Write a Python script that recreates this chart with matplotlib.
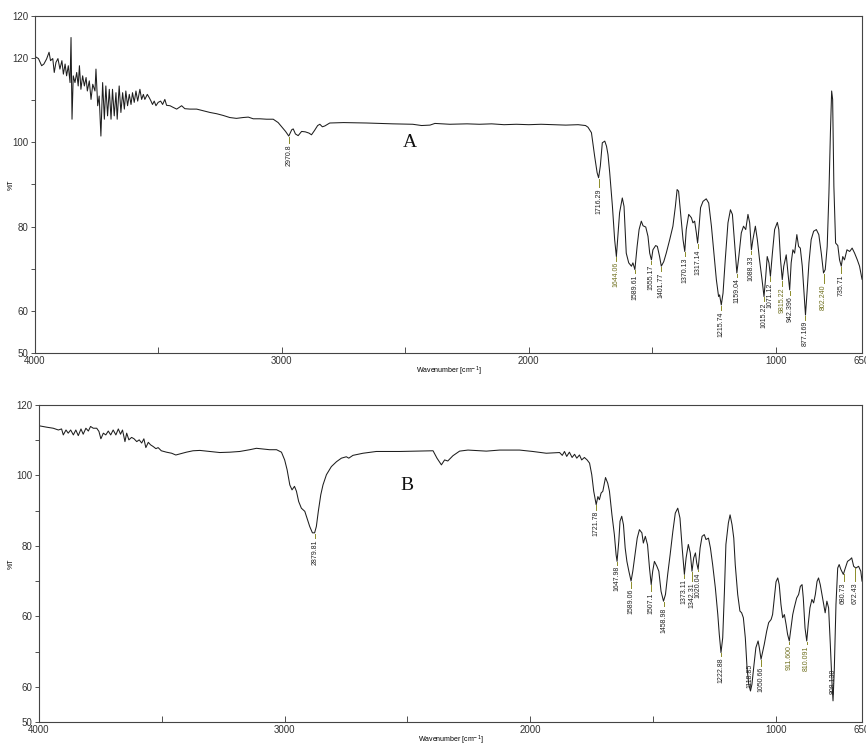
import matplotlib
matplotlib.use("Agg")
import matplotlib.pyplot as plt
import numpy as np

plt.rcParams["font.family"] = ["Liberation Sans", "DejaVu Sans"]

# ---- spectrum A (wavenumber cm-1, %T) ----
wn_a = [4000, 3986, 3973, 3964, 3953, 3943, 3937, 3928, 3922, 3915, 3907, 3899, 3891, 3885,
        3878, 3872, 3865, 3858, 3854, 3850, 3845, 3838, 3831, 3825, 3820, 3814, 3807, 3800,
        3793, 3788, 3780, 3773, 3766, 3757, 3753, 3746, 3740, 3733, 3726, 3719, 3713, 3706,
        3699, 3692, 3686, 3679, 3672, 3667, 3659, 3652, 3645, 3638, 3632, 3625, 3618, 3611,
        3605, 3598, 3591, 3584, 3575, 3568, 3561, 3555, 3545, 3537, 3530, 3524, 3517, 3510,
        3501, 3491, 3483, 3474, 3467, 3453, 3440, 3426, 3406, 3393, 3372, 3345, 3318, 3291,
        3264, 3238, 3211, 3184, 3157, 3136, 3116, 3089, 3062, 3035, 3015, 2995, 2985, 2972,
        2960, 2954, 2945, 2934, 2920, 2905, 2890, 2880, 2868, 2855, 2846, 2836, 2826, 2806,
        2750, 2657, 2550, 2470, 2434, 2400, 2380, 2320, 2250, 2200, 2150, 2100, 2050, 2000,
        1950, 1900, 1850, 1800, 1770, 1760, 1746, 1733, 1723, 1717, 1710, 1702, 1692, 1685,
        1679, 1672, 1661, 1652, 1645, 1638, 1632, 1621, 1614, 1605, 1595, 1584, 1578, 1570,
        1561, 1553, 1544, 1537, 1526, 1517, 1510, 1503, 1497, 1486, 1479, 1470, 1463, 1453,
        1443, 1429, 1416, 1406, 1399, 1393, 1385, 1375, 1368, 1362, 1352, 1341, 1335, 1328,
        1321, 1316, 1311, 1304, 1294, 1281, 1271, 1260, 1250, 1240, 1231, 1227, 1220, 1213,
        1204, 1193, 1183, 1175, 1166, 1157, 1149, 1139, 1130, 1121, 1112, 1105, 1098, 1092,
        1082, 1074, 1065, 1055, 1047, 1040, 1034, 1027, 1021, 1013, 1004, 993, 987, 980,
        973, 967, 957, 950, 943, 937, 930, 923, 914, 907, 900, 892, 885, 879,
        872, 865, 856, 846, 835, 825, 815, 806, 799, 791, 784, 778, 773, 769,
        764, 757, 748, 741, 734, 728, 721, 711, 700, 690, 680, 669, 660, 650]
t_a = [120.4, 119.9, 118.2, 118.6, 119.8, 121.4, 119.4, 119.9, 116.6, 119.0, 119.9, 117.4, 119.4, 116.2,
       118.6, 115.8, 118.2, 114.2, 124.9, 105.5, 115.8, 114.2, 116.6, 113.4, 118.2, 112.6, 115.8, 113.4,
       115.4, 112.2, 114.6, 110.2, 113.8, 112.2, 117.4, 108.7, 111.0, 101.5, 114.2, 105.5, 113.4, 106.3,
       112.6, 105.5, 112.6, 106.3, 111.8, 105.5, 113.4, 107.1, 111.8, 107.9, 112.2, 108.7, 111.4, 109.0,
       111.8, 109.5, 112.2, 109.8, 112.6, 110.2, 111.4, 110.2, 111.4, 110.6, 109.8, 109.0, 109.8, 108.7,
       109.5, 109.8, 109.0, 110.2, 108.8, 108.7, 108.3, 107.9, 108.7, 108.0, 107.9, 107.9, 107.5, 107.1,
       106.8, 106.4, 105.9, 105.7, 105.9, 106.0, 105.6, 105.6, 105.5, 105.5, 104.7, 103.3, 102.6, 101.5,
       103.0, 103.2, 102.0, 101.6, 102.6, 102.5, 102.2, 101.8, 102.8, 104.0, 104.3, 103.7, 103.9, 104.6,
       104.7, 104.6, 104.4, 104.3, 104.0, 104.1, 104.5, 104.3, 104.4, 104.3, 104.4, 104.2, 104.3, 104.2,
       104.3, 104.2, 104.1, 104.2, 104.0, 103.6, 102.3, 96.7, 92.8, 91.6, 94.4, 99.9, 100.3, 99.1,
       97.1, 92.8, 84.8, 76.9, 72.9, 78.5, 83.3, 86.8, 84.8, 73.7, 71.4, 70.6, 71.4, 69.8,
       75.3, 79.3, 81.3, 80.2, 79.9, 77.7, 73.7, 72.1, 74.5, 75.5, 75.3, 72.9, 70.6, 71.7,
       73.7, 76.9, 80.1, 84.8, 88.8, 88.4, 83.3, 76.9, 74.1, 79.3, 82.9, 82.1, 80.9, 81.3,
       78.5, 76.1, 79.3, 84.5, 86.0, 86.6, 85.6, 80.1, 73.7, 67.4, 63.4, 63.8, 61.4, 64.2,
       72.1, 80.9, 84.0, 82.9, 76.1, 69.0, 72.9, 78.5, 80.1, 79.3, 82.9, 80.9, 74.5, 76.9,
       80.1, 76.9, 72.1, 67.4, 63.4, 68.2, 72.9, 71.4, 68.2, 73.7, 79.3, 81.0, 79.3, 72.1,
       67.4, 70.6, 73.3, 69.0, 65.0, 71.4, 74.5, 73.7, 78.1, 75.3, 74.9, 70.6, 64.2, 59.0,
       65.0, 71.4, 76.9, 78.9, 79.3, 78.1, 73.7, 69.0, 69.8, 75.3, 88.0, 102.3, 112.2, 110.2,
       89.6, 76.1, 75.5, 72.1, 70.6, 72.9, 72.1, 74.5, 74.1, 74.9, 73.7, 72.1, 70.6, 67.5]

# ---- spectrum B ----
wn_b = [4000, 3969, 3942, 3921, 3908, 3901, 3890, 3881, 3871, 3860, 3850, 3840, 3829, 3820,
        3809, 3799, 3790, 3779, 3765, 3756, 3748, 3738, 3728, 3718, 3708, 3698, 3687, 3677,
        3668, 3660, 3650, 3643, 3634, 3623, 3613, 3602, 3592, 3582, 3573, 3565, 3555, 3546,
        3535, 3524, 3515, 3502, 3481, 3460, 3443, 3427, 3400, 3373, 3345, 3305, 3264, 3223,
        3183, 3142, 3115, 3088, 3061, 3033, 3013, 3000, 2990, 2979, 2970, 2960, 2952, 2943,
        2932, 2918, 2909, 2898, 2887, 2878, 2871, 2863, 2853, 2844, 2830, 2810, 2789, 2769,
        2749, 2739, 2722, 2681, 2627, 2532, 2396, 2380, 2362, 2349, 2336, 2315, 2288, 2254,
        2179, 2125, 2044, 1990, 1935, 1881, 1870, 1861, 1852, 1841, 1830, 1820, 1811, 1800,
        1791, 1780, 1769, 1759, 1750, 1742, 1732, 1725, 1719, 1712, 1705, 1694, 1685, 1678,
        1668, 1658, 1651, 1647, 1640, 1635, 1628, 1621, 1614, 1607, 1599, 1590, 1583, 1574,
        1565, 1556, 1546, 1540, 1532, 1523, 1515, 1508, 1502, 1495, 1485, 1477, 1468, 1458,
        1450, 1441, 1431, 1420, 1410, 1400, 1391, 1382, 1373, 1366, 1357, 1349, 1342, 1335,
        1328, 1323, 1317, 1309, 1301, 1292, 1285, 1275, 1267, 1258, 1247, 1237, 1231, 1224,
        1217, 1210, 1204, 1194, 1187, 1179, 1172, 1166, 1156, 1147, 1140, 1133, 1125, 1118,
        1111, 1104, 1098, 1091, 1082, 1073, 1068, 1061, 1054, 1048, 1038, 1030, 1020, 1014,
        1007, 1000, 993, 987, 980, 973, 966, 959, 953, 946, 939, 932, 926, 916,
        908, 901, 894, 889, 882, 875, 869, 862, 854, 847, 840, 833, 827, 820,
        813, 806, 800, 793, 786, 779, 772, 768, 763, 756, 749, 743, 736, 726,
        718, 709, 699, 692, 684, 675, 664, 655, 650]
t_b = [114.1, 113.7, 113.4, 112.9, 113.2, 111.5, 112.9, 112.0, 112.9, 111.5, 112.9, 111.3, 113.2, 111.7,
       113.4, 112.6, 113.9, 113.4, 113.4, 112.5, 110.4, 112.0, 111.5, 112.6, 111.5, 112.9, 111.5, 113.2,
       111.7, 112.9, 109.6, 112.0, 110.1, 110.8, 110.4, 109.6, 110.1, 109.2, 110.4, 107.9, 109.4, 108.7,
       108.2, 107.6, 107.9, 107.0, 106.6, 106.3, 105.8, 106.1, 106.6, 107.0, 107.1, 106.8, 106.5, 106.6,
       106.8, 107.3, 107.7, 107.5, 107.3, 107.3, 106.6, 104.4, 101.6, 97.3, 95.9, 96.9, 95.5, 92.6,
       90.7, 89.8, 87.9, 85.5, 83.7, 83.7, 85.5, 89.8, 94.5, 97.3, 100.2, 102.5, 103.9, 104.9,
       105.3, 104.9, 105.7, 106.3, 106.8, 106.8, 107.0, 104.9, 103.0, 104.4, 104.1, 105.6, 106.9, 107.2,
       106.9, 107.2, 107.2, 106.8, 106.3, 106.5, 105.7, 106.8, 105.4, 106.6, 105.1, 106.0, 104.9, 105.8,
       104.4, 105.1, 104.4, 103.5, 100.2, 95.5, 91.7, 94.0, 93.1, 95.0, 95.5, 99.4, 97.8, 95.5,
       88.9, 83.2, 77.5, 75.6, 81.3, 87.0, 88.4, 86.0, 79.4, 75.6, 72.8, 70.0, 72.8, 77.5,
       82.2, 84.6, 83.7, 80.8, 82.7, 80.3, 73.7, 69.0, 72.8, 75.6, 74.2, 72.8, 67.1, 64.3,
       66.2, 71.9, 77.5, 84.1, 89.3, 90.7, 87.9, 79.4, 71.9, 76.6, 80.4, 78.0, 72.8, 76.6,
       78.0, 75.2, 73.3, 79.4, 82.7, 83.2, 81.8, 82.2, 79.4, 74.7, 68.1, 60.5, 54.9, 49.7,
       53.9, 67.1, 80.4, 86.5, 88.8, 86.0, 82.2, 74.7, 66.2, 61.5, 61.0, 59.6, 53.9, 45.4,
       40.7, 38.8, 40.7, 45.4, 51.1, 53.0, 51.1, 47.8, 50.1, 52.0, 55.8, 58.2, 59.1, 60.5,
       65.2, 69.8, 70.9, 69.0, 63.4, 59.6, 60.5, 57.7, 54.9, 53.0, 56.7, 60.5, 62.4, 65.2,
       66.2, 68.5, 69.0, 65.2, 56.7, 53.0, 57.7, 62.4, 64.8, 63.8, 66.2, 69.9, 70.9, 69.0,
       66.2, 63.4, 61.0, 64.3, 62.4, 52.0, 40.7, 36.0, 44.5, 63.4, 73.7, 74.7, 73.3, 71.9,
       73.7, 75.6, 76.1, 76.6, 74.2, 73.7, 74.2, 72.8, 70.0]

# ---- peak labels: text, position (cm-1), %T where the label text starts ----
peaks_a = ["2970.8", "1716.29", "1644.06", "1589.61", "1555.17", "1401.77", "1370.13", "1317.14",
           "1215.74", "1159.04", "1088.33", "1015.22", "1071.12", "9815.22", "942.396", "877.169",
           "802.240", "735.71"]
peak_wn_a = [2972, 1717, 1645, 1570, 1503, 1463, 1368, 1316, 1220, 1157, 1098, 1047, 1021, 973,
             943, 879, 806, 734]
label_top_a = [99.9, 89.3, 71.9, 68.9, 71.2, 69.4, 73.0, 74.9, 60.2, 68.0, 73.5, 62.3, 67.0, 65.8,
               63.8, 57.9, 66.5, 69.0]

peaks_b = ["2879.81", "1721.78", "1647.98", "1589.06", "1507.1", "1458.98", "1373.11", "1342.31",
           "1020.04", "1222.88", "1118.85", "1050.66", "911.600", "810.091", "808.130", "680.73",
           "672.43"]
peak_wn_b = [2878, 1732, 1647, 1590, 1508, 1458, 1373, 1342, 1317, 1224, 1106, 1061, 946, 875,
             768, 725, 679]
label_top_b = [82.2, 90.3, 74.7, 68.1, 67.1, 62.9, 70.9, 70.0, 72.8, 48.7, 46.8, 45.9, 52.0, 52.0,
               45.4, 69.9, 69.9]

olive_labels = {"1644.06", "9815.22", "802.240", "911.600", "810.091"}

ytick_a = [50, 60, 80, 100, 120, 130]
ytick_lbl_a = ["50", "60", "80", "100", "120", "120"]
ytick_minor_a = [70, 90, 110]
ytick_b = [30, 40, 60, 80, 100, 120]
ytick_lbl_b = ["50", "60", "60", "80", "100", "120"]
ytick_minor_b = [50, 70, 90, 110]

LINE = "#1e1e1e"
OLIVE = "#8c8c28"
OLIVE_TEXT = "#6e6e1c"

fig = plt.figure(figsize=(8.66, 7.45), dpi=100)
ax_a = fig.add_axes([0.0404, 0.5262, 0.955, 0.4523])
ax_b = fig.add_axes([0.0450, 0.0309, 0.9504, 0.4255])


def draw_panel(ax, wn, t, names, pwn, ptop, ylim, yt, ytl, ytm, letter, letter_xy, xl_y, yl_x):
    ax.plot(wn, t, color=LINE, lw=0.75)
    wn_arr = np.array(wn)[::-1]
    t_arr = np.array(t)[::-1]
    for name, w, top in zip(names, pwn, ptop):
        curve = np.interp(w, wn_arr, t_arr)
        col = OLIVE_TEXT if name in olive_labels else "#222222"
        if top < curve:
            ax.plot([w, w], [curve - 0.2, top], color=OLIVE, lw=0.7)
        ax.text(w, top - 0.3, name, rotation=90, ha="center", va="top",
                fontsize=5, color=col)

    ax.set_xlim(4000, 650)
    ax.set_ylim(*ylim)
    ax.set_xticks([4000, 3000, 2000, 1000, 650])
    ax.set_xticklabels(["4000", "3000", "2000", "1000", "650"])
    ax.set_xticks([3500, 2500, 1500], minor=True)
    ax.set_yticks(yt)
    ax.set_yticklabels(ytl)
    ax.set_yticks(ytm, minor=True)
    ax.tick_params(axis="x", which="both", direction="in", length=4, width=0.6,
                   labelsize=7, pad=2, colors="#333333")
    ax.tick_params(axis="y", which="both", direction="out", length=3, width=0.6,
                   labelsize=7, pad=1.5, colors="#333333")
    for sp in ax.spines.values():
        sp.set_linewidth(0.8)
        sp.set_color("#444444")

    ax.set_xlabel("Wavenumber [cm$^{-1}$]", fontsize=5)
    ax.xaxis.set_label_coords(0.5, xl_y)
    ax.set_ylabel("%T", fontsize=5)
    ax.yaxis.set_label_coords(yl_x, 0.5)
    ax.text(letter_xy[0], letter_xy[1], letter, fontsize=14, family="Liberation Serif",
            ha="center", va="center", color="#111111")


draw_panel(ax_a, wn_a, t_a, peaks_a, peak_wn_a, label_top_a, (50, 130),
           ytick_a, ytick_lbl_a, ytick_minor_a, "A", (2482, 100.0), -0.036, -0.025)
draw_panel(ax_b, wn_b, t_b, peaks_b, peak_wn_b, label_top_b, (30, 120),
           ytick_b, ytick_lbl_b, ytick_minor_b, "B", (2503, 97.0), -0.038, -0.030)

fig.savefig("out.png", dpi=100)
